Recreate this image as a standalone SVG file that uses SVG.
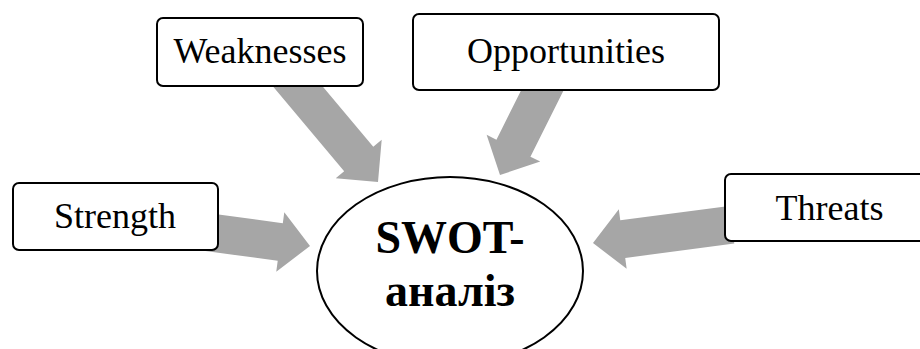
<svg xmlns="http://www.w3.org/2000/svg" width="920" height="349" viewBox="0 0 920 349">
<style>
.box{fill:#fff;stroke:#000;stroke-width:2}
.lbl{font-size:36px;fill:#000;text-anchor:middle}
.big{font-size:46px;font-weight:bold;fill:#000;text-anchor:middle}
.arr{fill:#a6a6a6}
</style>
<defs>
<polygon id="arrow" points="-140,-19 -30,-19 -30,-30 0,0 -30,30 -30,19 -140,19"/>
</defs>
<rect width="920" height="349" fill="#fff"/>
<g id="connectors" class="arr">
<use href="#arrow" transform="translate(310,246) rotate(7.7)"/>
<use href="#arrow" transform="translate(378,182) rotate(50)"/>
<use href="#arrow" transform="translate(500,175) rotate(116.6)"/>
<use href="#arrow" transform="translate(593,243) rotate(172.5)"/>
</g>
<g font-family="'Liberation Serif', 'Times New Roman', 'DejaVu Serif', serif">
<g id="strength">
<rect class="box" x="13" y="183" width="205" height="67" rx="6"/>
<text class="lbl" x="115" y="228">Strength</text>
</g>
<g id="weaknesses">
<rect class="box" x="157" y="18" width="206" height="68" rx="6"/>
<text class="lbl" x="260" y="63">Weaknesses</text>
</g>
<g id="opportunities">
<rect class="box" x="413" y="14" width="306" height="76" rx="6"/>
<text class="lbl" x="566" y="63">Opportunities</text>
</g>
<g id="threats">
<rect class="box" x="725" y="174" width="210" height="67" rx="6"/>
<text class="lbl" x="829.5" y="220">Threats</text>
</g>
<g id="swot">
<ellipse cx="450" cy="271" rx="133" ry="94" fill="#fff" stroke="#000" stroke-width="2"/>
<text class="big" x="450" y="253">SWOT-</text>
<text class="big" x="450" y="306">аналіз</text>
</g>
</g>
</svg>
